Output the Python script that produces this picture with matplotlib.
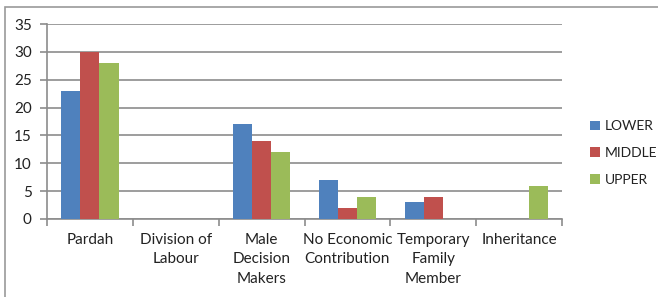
import numpy as np
import matplotlib.pyplot as plt
from matplotlib.patches import Rectangle

categories = ["Pardah", "Division of\nLabour", "Male\nDecision\nMakers",
              "No Economic\nContribution", "Temporary\nFamily\nMember", "Inheritance"]
lower = [23, 0, 17, 7, 3, 0]
middle = [30, 0, 14, 2, 4, 0]
upper = [28, 0, 12, 4, 0, 6]
series_names = ["LOWER", "MIDDLE", "UPPER"]
colors = ["#4F81BD", "#C0504D", "#9BBB59"]

plt.rcParams['font.family'] = ['Lato', 'DejaVu Sans']

W, H = 658, 297
fig = plt.figure(figsize=(W / 100, H / 100), dpi=100)

# plot area in pixels: x 47..562, y 24..219
ax = fig.add_axes([47 / W, 1 - 219 / H, (562 - 47) / W, (219 - 24) / H])

x = np.arange(len(categories))
bw = 1 / 4.5
for i, (vals, name, c) in enumerate(zip([lower, middle, upper], series_names, colors)):
    ax.bar(x + (i - 1) * bw, vals, width=bw, color=c, label=name, zorder=3)

ax.set_xlim(-0.5, len(categories) - 0.5)
ax.set_ylim(0, 35)
ax.set_yticks(range(0, 36, 5))
ax.yaxis.grid(True, color="#8c8c8c", linewidth=1.2, zorder=0)

# category labels between boundary ticks
ax.set_xticks(np.arange(-0.5, len(categories) + 0.5, 1))
ax.set_xticklabels([])
ax.set_xticks(x, minor=True)
ax.set_xticklabels(categories, minor=True, fontsize=11, linespacing=1.5,
                   color="#222222")
ax.tick_params(axis="x", which="minor", length=0, pad=10)
ax.tick_params(axis="x", which="major", length=5, color="#8c8c8c", width=1.2)
ax.tick_params(axis="y", length=5, color="#8c8c8c", width=1.2, labelsize=11,
               pad=6, labelcolor="#222222")

for s in ["top", "right"]:
    ax.spines[s].set_visible(False)
for s in ["left", "bottom"]:
    ax.spines[s].set_color("#8c8c8c")
    ax.spines[s].set_linewidth(1.2)

leg = fig.legend(loc="center left", bbox_to_anchor=(590 / W, 1 - 153 / H),
                 frameon=False, fontsize=10, handlelength=0.7, handleheight=0.7,
                 handletextpad=0.35, labelspacing=1.05, borderpad=0,
                 borderaxespad=0)
for t in leg.get_texts():
    t.set_color("#222222")

# outer chart border
fig.patches.append(Rectangle((5 / W, -0.1), 1.2, 1 - 7 / H + 0.1,
                             transform=fig.transFigure, fill=False,
                             edgecolor="#9a9a9a", linewidth=1.2))

fig.savefig("out.png", dpi=100)
